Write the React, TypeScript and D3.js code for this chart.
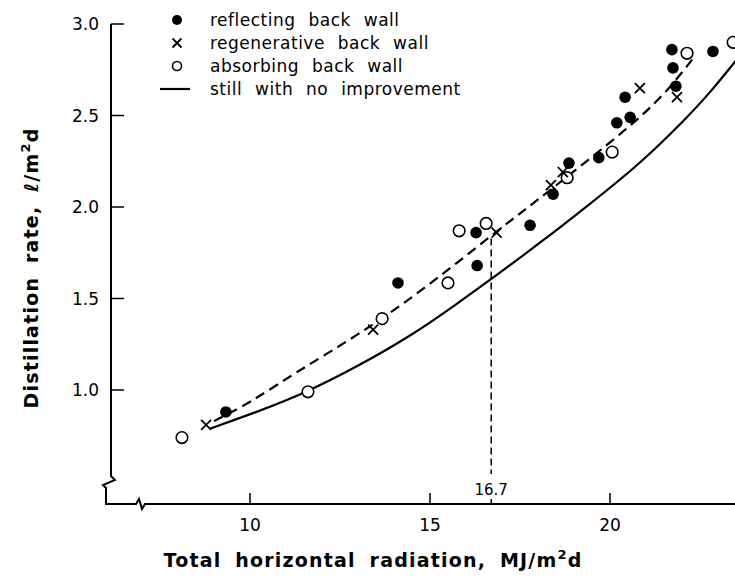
import React from "react";
import * as d3 from "d3";

// ---------- data ----------
const reflecting: [number, number][] = [
  [9.33, 0.88], [14.11, 1.585], [16.31, 1.68], [16.28, 1.86], [17.78, 1.9],
  [18.42, 2.07], [18.86, 2.24], [19.69, 2.27], [20.19, 2.46], [20.56, 2.49],
  [20.42, 2.6], [21.72, 2.86], [21.75, 2.76], [21.83, 2.66], [22.86, 2.85],
];
const regenerative: [number, number][] = [
  [8.78, 0.81], [13.42, 1.33], [16.85, 1.86], [18.36, 2.12], [18.69, 2.19],
  [20.83, 2.65], [21.86, 2.6],
];
const absorbing: [number, number][] = [
  [8.11, 0.74], [11.61, 0.99], [13.67, 1.39], [15.5, 1.585], [15.81, 1.87],
  [16.56, 1.91], [18.81, 2.16], [20.06, 2.3], [22.14, 2.84], [23.42, 2.9],
];
const noImprovement: [number, number][] = [
  [8.9, 0.79], [10.2, 0.88], [11.6, 0.99], [13.0, 1.13], [14.5, 1.3],
  [15.6, 1.45], [16.8, 1.62], [18.1, 1.81], [19.4, 2.01], [20.8, 2.23],
  [22.1, 2.48], [22.8, 2.63], [23.5, 2.8],
];
const improvedFit: [number, number][] = [
  [9.0, 0.83], [10.0, 0.93], [11.3, 1.1], [13.0, 1.3], [14.7, 1.53],
  [16.8, 1.86], [18.4, 2.1], [20.5, 2.43], [21.5, 2.61], [22.3, 2.81],
];
const xTicks = [10, 15, 20];
const xTickLabels = ["10", "15", "20"];
const yTicks = [1.0, 1.5, 2.0, 2.5, 3.0];
const yTickLabels = ["1.0", "1.5", "2.0", "2.5", "3.0"];
const markX = 16.7;
const markY = 1.86;
const markLabel = "16.7";
const legendLabels = [
  "reflecting back wall",
  "regenerative back wall",
  "absorbing back wall",
  "still with no improvement",
];

// ---------- layout ----------
const W = 735;
const H = 576;
const axisX = 111; // y-axis pixel x
const axisY = 504; // x-axis pixel y
const font = "'DejaVu Sans', sans-serif";

export default function App() {
  const x = d3.scaleLinear().domain([10, 20]).range([250, 610]);
  const y = d3.scaleLinear().domain([1, 3]).range([390, 24]);
  const line = d3
    .line<[number, number]>()
    .x((d) => x(d[0]))
    .y((d) => y(d[1]))
    .curve(d3.curveBasis);

  const yTop = y(3.0);
  const yAxisPath = `M${axisX},${yTop} L${axisX},${axisY - 28} L${axisX + 4},${axisY - 24} L${axisX - 8},${axisY - 19} L${axisX - 5},${axisY - 16} L${axisX - 5},${axisY} L${axisX + 25},${axisY} L${axisX + 28},${axisY - 5} L${axisX + 31},${axisY + 5} L${axisX + 34},${axisY} L${W},${axisY}`;

  const cross = (cx: number, cy: number, s = 5) =>
    `M${cx - s},${cy - s}L${cx + s},${cy + s}M${cx - s},${cy + s}L${cx + s},${cy - s}`;

  const legX = 177;
  const legTextX = 210;
  const legY = [20, 43, 66, 89];

  return (
    <svg
      width={W}
      height={H}
      style={{ position: "absolute", left: 0, top: 0, background: "#fff" }}
      fontFamily={font}
    >
      <rect width={W} height={H} fill="#fff" />
      <path d={yAxisPath} fill="none" stroke="#000" strokeWidth={2} />
      {yTicks.map((t, i) => (
        <g key={"yt" + t}>
          <line x1={axisX} x2={axisX + 13} y1={y(t)} y2={y(t)} stroke="#000" strokeWidth={1.5} />
          <text x={axisX - 12} y={y(t)} dy="0.36em" textAnchor="end" fontSize={17} fill="#000">
            {yTickLabels[i]}
          </text>
        </g>
      ))}
      {xTicks.map((t, i) => (
        <g key={"xt" + t}>
          <line x1={x(t)} x2={x(t)} y1={axisY} y2={axisY - 11} stroke="#000" strokeWidth={1.5} />
          <text x={x(t)} y={axisY + 27} textAnchor="middle" fontSize={17} fill="#000">
            {xTickLabels[i]}
          </text>
        </g>
      ))}
      {/* 16.7 marker */}
      <line
        x1={x(markX)}
        x2={x(markX)}
        y1={y(markY) + 6}
        y2={axisY - 30}
        stroke="#000"
        strokeWidth={1.5}
        strokeDasharray="7,4"
      />
      <line x1={x(markX)} x2={x(markX)} y1={axisY} y2={axisY - 5} stroke="#000" strokeWidth={1.5} />
      <text x={x(markX)} y={axisY - 9} textAnchor="middle" fontSize={15} fill="#000">
        {markLabel}
      </text>

      {/* curves */}
      <path d={line(noImprovement) || ""} fill="none" stroke="#000" strokeWidth={2.2} />
      <path
        d={line(improvedFit) || ""}
        fill="none"
        stroke="#000"
        strokeWidth={2.2}
        strokeDasharray="10,6"
      />

      {/* points */}
      {reflecting.map((d, i) => (
        <circle key={"r" + i} cx={x(d[0])} cy={y(d[1])} r={5.8} fill="#000" />
      ))}
      {absorbing.map((d, i) => (
        <circle
          key={"a" + i}
          cx={x(d[0])}
          cy={y(d[1])}
          r={5.8}
          fill="#fff"
          stroke="#000"
          strokeWidth={1.6}
        />
      ))}
      {regenerative.map((d, i) => (
        <path key={"g" + i} d={cross(x(d[0]), y(d[1]))} stroke="#000" strokeWidth={1.8} fill="none" />
      ))}

      {/* legend */}
      <circle cx={legX} cy={legY[0]} r={5} fill="#000" />
      <path d={cross(legX, legY[1], 4.5)} stroke="#000" strokeWidth={1.8} />
      <circle cx={legX} cy={legY[2]} r={4.5} fill="#fff" stroke="#000" strokeWidth={1.6} />
      <line x1={160} x2={190} y1={legY[3]} y2={legY[3]} stroke="#000" strokeWidth={2.2} />
      {legendLabels.map((l, i) => (
        <text
          key={l}
          x={legTextX}
          y={legY[i]}
          dy="0.35em"
          fontSize={17}
          fill="#000"
          style={{ wordSpacing: "7px", letterSpacing: "0.5px" }}
        >
          {l}
        </text>
      ))}

      {/* axis titles */}
      <text
        x={373}
        y={567}
        textAnchor="middle"
        fontSize={19}
        fontWeight="bold"
        fill="#000"
        style={{ wordSpacing: "6px", letterSpacing: "1.2px" }}
      >
        Total horizontal radiation, MJ/m
        <tspan dy={-8} fontSize={13}>2</tspan>
        <tspan dy={8}>d</tspan>
      </text>
      <text
        transform={`translate(38,${268}) rotate(-90)`}
        textAnchor="middle"
        fontSize={19}
        fontWeight="bold"
        fill="#000"
        style={{ wordSpacing: "6px", letterSpacing: "1.2px" }}
      >
        Distillation rate, <tspan fontStyle="italic">ℓ</tspan>/m
        <tspan dy={-8} fontSize={13}>2</tspan>
        <tspan dy={8}>d</tspan>
      </text>
    </svg>
  );
}
